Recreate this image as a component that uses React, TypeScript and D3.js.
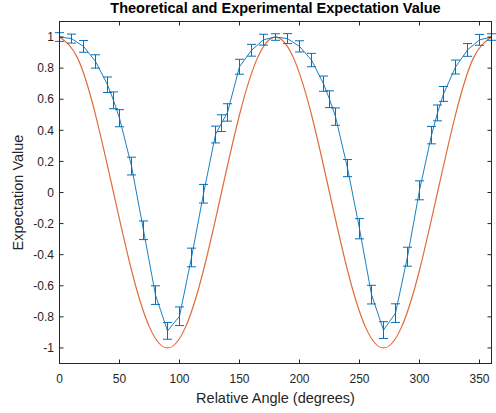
import React from 'react';
import * as d3 from 'd3';

const angles = [0, 10, 20, 30, 40, 45, 50, 60, 70, 80, 90, 100, 110, 120, 130, 135, 140, 150, 160, 170, 180, 190, 200, 210, 220, 225, 230, 240, 250, 260, 270, 280, 290, 300, 310, 315, 320, 330, 340, 350, 360];
const expValues = [1.0, 0.99, 0.94, 0.843, 0.693, 0.593, 0.478, 0.17, -0.243, -0.66, -0.89, -0.796, -0.418, -0.008, 0.373, 0.446, 0.515, 0.809, 0.915, 0.983, 1.0, 0.99, 0.94, 0.852, 0.7, 0.6, 0.488, 0.157, -0.233, -0.657, -0.885, -0.776, -0.413, 0.014, 0.369, 0.512, 0.634, 0.807, 0.917, 0.982, 1.0];
const expErrors = [0.028, 0.029, 0.038, 0.043, 0.05, 0.054, 0.055, 0.057, 0.06, 0.06, 0.054, 0.06, 0.06, 0.06, 0.054, 0.054, 0.056, 0.048, 0.038, 0.035, 0.021, 0.032, 0.036, 0.043, 0.049, 0.054, 0.056, 0.055, 0.065, 0.06, 0.054, 0.06, 0.061, 0.061, 0.056, 0.051, 0.048, 0.045, 0.041, 0.035, 0.021];

const theoryAngles = [0, 15, 30, 45, 60, 75, 90, 105, 120, 135, 150, 165, 180, 195, 210, 225, 240, 255, 270, 285, 300, 315, 330, 345, 360];
const theoryValues = [1, 0.866, 0.5, 0, -0.5, -0.866, -1, -0.866, -0.5, 0, 0.5, 0.866, 1, 0.866, 0.5, 0, -0.5, -0.866, -1, -0.866, -0.5, 0, 0.5, 0.866, 1];

const xTicks = [0, 50, 100, 150, 200, 250, 300, 350];
const yTicks = [-1, -0.8, -0.6, -0.4, -0.2, 0, 0.2, 0.4, 0.6, 0.8, 1];

const W = 496;
const H = 413;
const L = 59.5, R = 491.5, T = 21.5, B = 363.5;
const AXIS = '#262626';
const BLUE = '#0072BD';
const ORANGE = '#D95319';
const FONT = '"Liberation Sans", Arial, Helvetica, sans-serif';

export default function App() {
  const x = d3.scaleLinear().domain([0, 360]).range([L, R]);
  const y = d3.scaleLinear().domain([-1.1, 1.1]).range([B, T]);

  const theoryLine = d3.line<number>()
    .x((_, i) => x(theoryAngles[i]))
    .y((d) => y(d))
    .curve(d3.curveNatural)(theoryValues) || '';

  const expLine = d3.line<number>()
    .x((_, i) => x(angles[i]))
    .y((d) => y(d))(expValues) || '';

  const tickLen = 4;
  const cap = 4.5;

  return (
    <svg width={W} height={H} style={{ position: 'absolute', left: 0, top: 0, background: '#fff' }} fontFamily={FONT}>
      <rect x={0} y={0} width={W} height={H} fill="#fff" />
      <clipPath id="plotclip">
        <rect x={L} y={T} width={R - L} height={B - T} />
      </clipPath>
      <path d={theoryLine} fill="none" stroke={ORANGE} strokeOpacity={0.85} strokeWidth={1.2} clipPath="url(#plotclip)" />
      <path d={expLine} fill="none" stroke={BLUE} strokeOpacity={0.9} strokeWidth={1} />
      {angles.map((a, i) => {
        const cx = x(a);
        const yt = y(expValues[i] + expErrors[i]);
        const yb = y(expValues[i] - expErrors[i]);
        return (
          <g key={i} stroke={BLUE} strokeWidth={1}>
            <line x1={cx} x2={cx} y1={yt} y2={yb} />
            <line x1={cx - cap} x2={cx + cap} y1={yt} y2={yt} />
            <line x1={cx - cap} x2={cx + cap} y1={yb} y2={yb} />
          </g>
        );
      })}
      <rect x={L} y={T} width={R - L} height={B - T} fill="none" stroke={AXIS} strokeWidth={1} />
      {xTicks.map((t) => (
        <g key={'x' + t}>
          <line x1={x(t)} x2={x(t)} y1={B} y2={B - tickLen} stroke={AXIS} />
          <line x1={x(t)} x2={x(t)} y1={T} y2={T + tickLen} stroke={AXIS} />
          <text x={x(t)} y={383} textAnchor="middle" fontSize={12} fill={AXIS}>{t}</text>
        </g>
      ))}
      {yTicks.map((t) => (
        <g key={'y' + t}>
          <line x1={L} x2={L + tickLen} y1={y(t)} y2={y(t)} stroke={AXIS} />
          <line x1={R} x2={R - tickLen} y1={y(t)} y2={y(t)} stroke={AXIS} />
          <text x={54} y={y(t)} dy="0.35em" textAnchor="end" fontSize={12} fill={AXIS}>{t}</text>
        </g>
      ))}
      <text x={(L + R) / 2} y={403} textAnchor="middle" fontSize={14.5} fill={AXIS}>Relative Angle (degrees)</text>
      <text transform={`translate(23, ${(T + B) / 2}) rotate(-90)`} textAnchor="middle" fontSize={14.5} fill={AXIS}>Expectation Value</text>
      <text x={(L + R) / 2} y={13} textAnchor="middle" fontSize={14.5} fontWeight="bold" fill="#000">Theoretical and Experimental Expectation Value</text>
    </svg>
  );
}
